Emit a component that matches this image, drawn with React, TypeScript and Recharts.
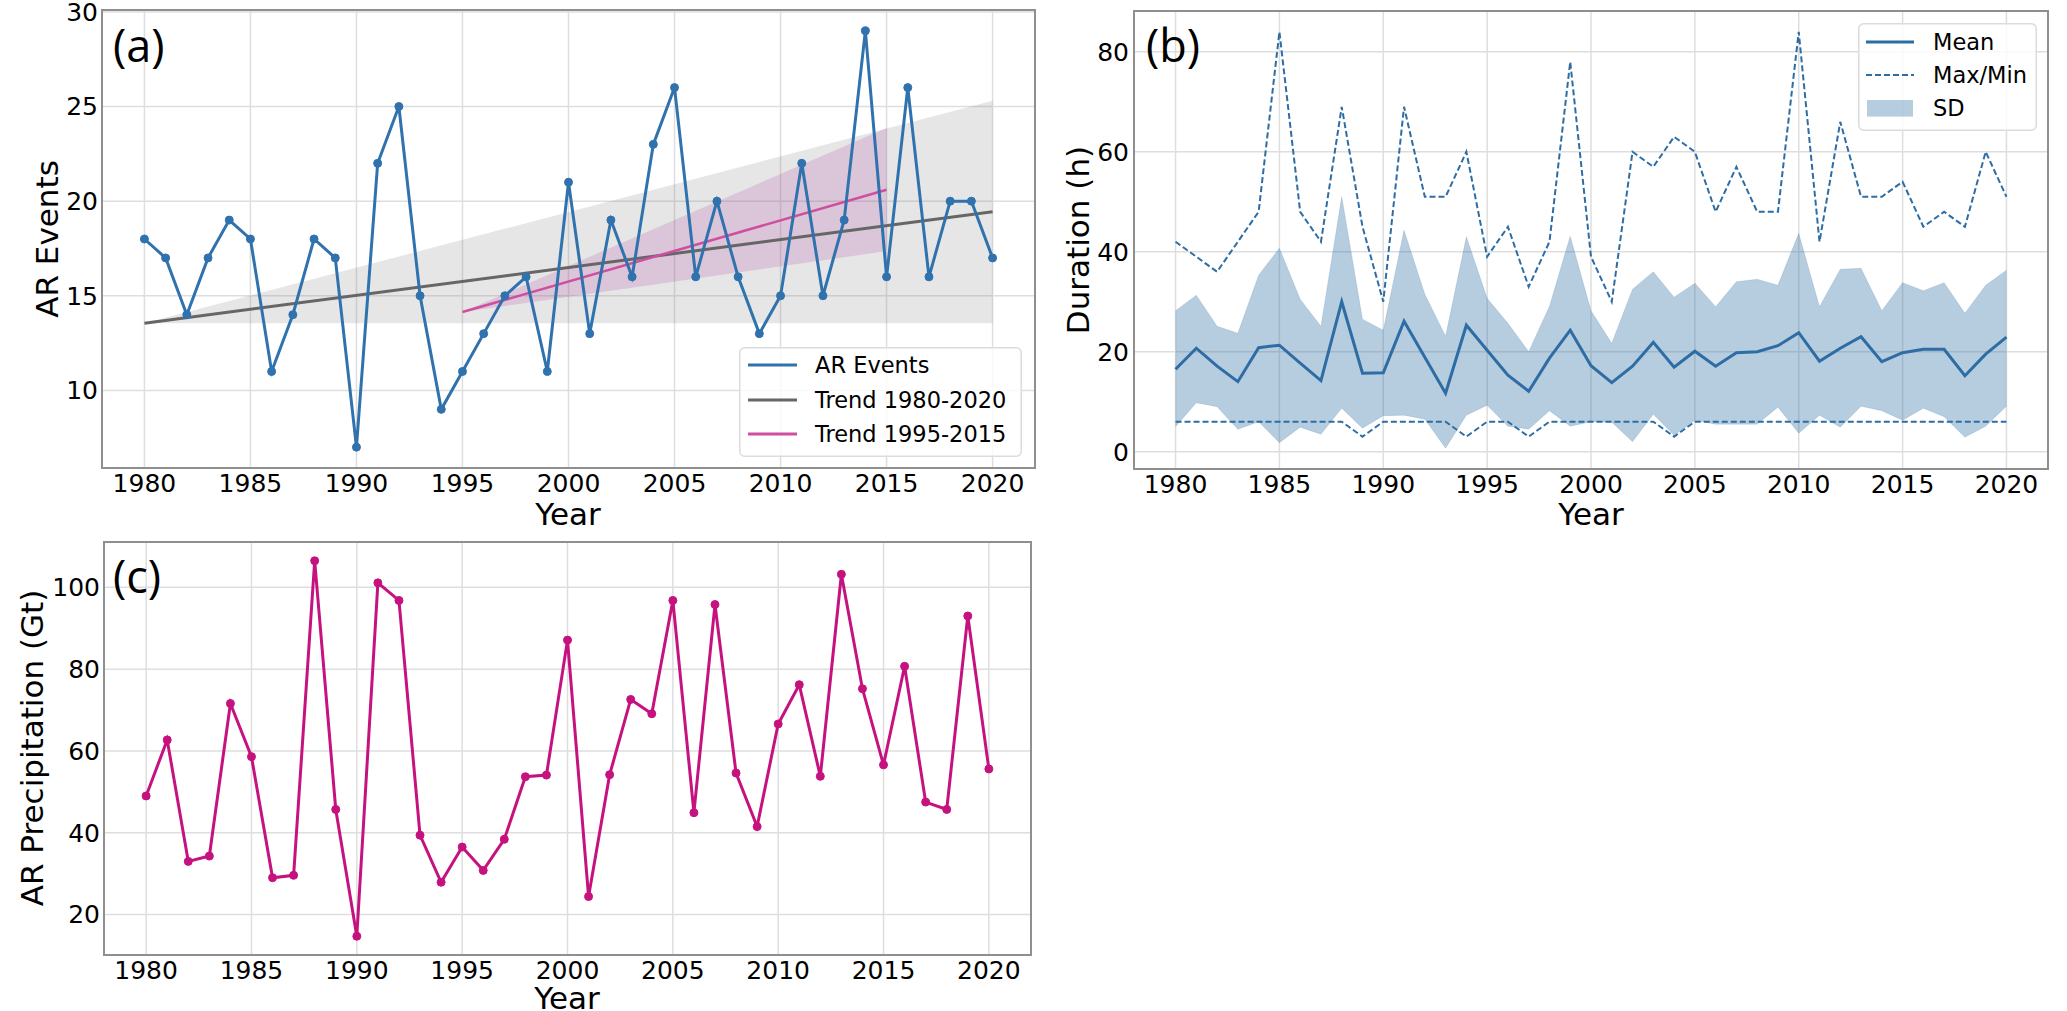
import React from 'react';
import {
  ComposedChart,
  Line,
  Area,
  XAxis,
  YAxis,
  CartesianGrid,
  ReferenceArea,
  Legend,
} from 'recharts';

// ---------- data ----------
const years = [
  1980, 1981, 1982, 1983, 1984, 1985, 1986, 1987, 1988, 1989,
  1990, 1991, 1992, 1993, 1994, 1995, 1996, 1997, 1998, 1999,
  2000, 2001, 2002, 2003, 2004, 2005, 2006, 2007, 2008, 2009,
  2010, 2011, 2012, 2013, 2014, 2015, 2016, 2017, 2018, 2019,
  2020,
];
const yearTicks = [1980, 1985, 1990, 1995, 2000, 2005, 2010, 2015, 2020];

const arEvents = [
  18, 17, 14, 17, 19, 18, 11, 14, 18, 17,
  7, 22, 25, 15, 9, 11, 13, 15, 16, 11,
  21, 13, 19, 16, 23, 26, 16, 20, 16, 13,
  15, 22, 15, 19, 29, 16, 26, 16, 20, 20,
  17,
];

// trend lines (endpoints) and their confidence bands
const trendAllYears = [1980, 2020];
const trendAllValues = [13.55, 19.44];
const bandAllLow = [13.55, 13.55];
const bandAllHigh = [13.55, 25.3];

const trendRecentYears = [1995, 2015];
const trendRecentValues = [14.14, 20.6];
const bandRecentLow = [14.14, 17.36];
const bandRecentHigh = [14.14, 23.87];

const eventsTicks = [10, 15, 20, 25, 30];

const durationMean = [
  16.5, 20.7, 17.1, 14.0, 20.8, 21.3, 17.7, 14.2, 30.0, 15.7,
  15.8, 26.1, 18.9, 11.7, 25.3, 20.3, 15.3, 12.1, 18.7, 24.3,
  17.2, 13.8, 17.1, 21.9, 16.9, 20.1, 17.1, 19.8, 20.0, 21.2,
  23.8, 18.1, 20.7, 23.0, 18.0, 19.8, 20.5, 20.5, 15.2, 19.5,
  22.9,
];
const durationMax = [
  42, 39, 36, 42, 48, 84, 48, 42, 69, 45,
  30, 69, 51, 51, 60, 39, 45, 33, 42, 78,
  39, 30, 60, 57, 63, 60, 48, 57, 48, 48,
  84, 42, 66, 51, 51, 54, 45, 48, 45, 60,
  51,
];
const durationMin = [
  6, 6, 6, 6, 6, 6, 6, 6, 6, 3,
  6, 6, 6, 6, 3, 6, 6, 3, 6, 6,
  6, 6, 6, 6, 3, 6, 6, 6, 6, 6,
  6, 6, 6, 6, 6, 6, 6, 6, 6, 6,
  6,
];
const sdLow = [
  5.0, 9.8, 9.0, 4.5, 6.0, 1.8, 4.9, 3.5, 8.7, 4.7,
  7.2, 7.3, 6.5, 0.7, 7.3, 9.3, 5.1, 4.5, 8.2, 5.1,
  6.0, 5.9, 2.0, 7.5, 3.3, 6.3, 5.5, 5.5, 5.5, 8.9,
  3.7, 7.3, 4.9, 9.1, 8.2, 6.3, 8.7, 7.0, 2.9, 5.1,
  9.1,
];
const sdHigh = [
  28.2, 31.3, 25.1, 23.7, 35.3, 40.7, 30.5, 25.1, 51.0, 26.5,
  24.3, 44.3, 31.5, 23.1, 43.0, 30.7, 25.7, 20.0, 29.1, 43.1,
  28.2, 21.7, 32.5, 36.0, 30.9, 33.7, 29.0, 34.0, 34.5, 33.3,
  43.7, 29.0, 36.5, 36.7, 28.2, 33.8, 32.2, 33.8, 27.7, 33.3,
  36.3,
];
const durationTicks = [0, 20, 40, 60, 80];

const arPrecip = [
  49.0, 62.7, 33.0, 34.3, 71.6, 58.6, 29.0, 29.6, 106.5, 45.7,
  14.7, 101.1, 96.8, 39.4, 27.9, 36.5, 30.8, 38.4, 53.7, 54.1,
  87.1, 24.4, 54.2, 72.6, 69.1, 96.8, 44.9, 95.8, 54.6, 41.5,
  66.6, 76.2, 53.8, 103.2, 75.2, 56.6, 80.7, 47.5, 45.7, 93.0,
  55.6,
];
const precipTicks = [20, 40, 60, 80, 100];

// ---------- tables ----------
const pick = (ys: number[], vals: number[], y: number) => {
  const i = ys.indexOf(y);
  return i >= 0 ? vals[i] : null;
};
const pickRange = (ys: number[], lo: number[], hi: number[], y: number) => {
  const i = ys.indexOf(y);
  return i >= 0 ? [lo[i], hi[i]] : null;
};

const tableA = years.map((y, i) => ({
  year: y,
  events: arEvents[i],
  trendAll: pick(trendAllYears, trendAllValues, y),
  bandAll: pickRange(trendAllYears, bandAllLow, bandAllHigh, y),
  trendRecent: pick(trendRecentYears, trendRecentValues, y),
  bandRecent: pickRange(trendRecentYears, bandRecentLow, bandRecentHigh, y),
}));

const tableB = years.map((y, i) => ({
  year: y,
  mean: durationMean[i],
  max: durationMax[i],
  min: durationMin[i],
  sd: [sdLow[i], sdHigh[i]],
}));

const tableC = years.map((y, i) => ({ year: y, precip: arPrecip[i] }));

// ---------- styles ----------
const FONT = '"DejaVu Sans", sans-serif';
const tickStyle = { fontSize: 25, fill: '#000', fontFamily: FONT };
const GRID = '#dedede';
const FRAME = '#8f8f8f';
const BLUE_A = '#3072ad';
const BLUE_B = '#2e6da4';
const MAGENTA = '#c6127f';
const PINK = '#cf4ea0';
const GRAY_T = '#666666';

const LegendA = () => (
  <svg width={283} height={110} style={{ display: 'block' }}>
    <rect x={0.75} y={0.75} width={281.5} height={108.5} rx={5} fill="#fff" fillOpacity={0.8} stroke="#dcdcdc" strokeWidth={1.5} />
    {[
      { label: 'AR Events', color: BLUE_A, y: 18 },
      { label: 'Trend 1980-2020', color: GRAY_T, y: 53 },
      { label: 'Trend 1995-2015', color: PINK, y: 87 },
    ].map((e) => (
      <g key={e.label}>
        <line x1={9} x2={58} y1={e.y} y2={e.y} stroke={e.color} strokeWidth={3} />
        <text x={76} y={e.y} dominantBaseline="central" fontFamily={FONT} fontSize={22.5} fill="#000">
          {e.label}
        </text>
      </g>
    ))}
  </svg>
);

const LegendB = () => (
  <svg width={179} height={108} style={{ display: 'block' }}>
    <rect x={0.75} y={0.75} width={177.5} height={106.5} rx={5} fill="#fff" fillOpacity={0.8} stroke="#dcdcdc" strokeWidth={1.5} />
    <line x1={8} x2={56} y1={19} y2={19} stroke={BLUE_B} strokeWidth={3} />
    <text x={75} y={19} dominantBaseline="central" fontFamily={FONT} fontSize={22.5} fill="#000">Mean</text>
    <line x1={8} x2={56} y1={52} y2={52} stroke={BLUE_B} strokeWidth={2} strokeDasharray="6 3" />
    <text x={75} y={52} dominantBaseline="central" fontFamily={FONT} fontSize={22.5} fill="#000">Max/Min</text>
    <rect x={9} y={77} width={46} height={16.6} fill={BLUE_B} fillOpacity={0.35} />
    <text x={75} y={85} dominantBaseline="central" fontFamily={FONT} fontSize={22.5} fill="#000">SD</text>
  </svg>
);

const A_DOMAIN: [number, number] = [5.9, 30.1];
const B_DOMAIN: [number, number] = [-3.47, 88.17];
const C_DOMAIN: [number, number] = [10.11, 111.09];
const X_DOMAIN: [number, number] = [1978, 2022];

export default function App() {
  return (
    <div style={{ position: 'absolute', left: 0, top: 0, width: 2067, height: 1011, background: '#fff', overflow: 'hidden' }}>
      {/* Panel (a) */}
      <div style={{ position: 'absolute', left: 0, top: 0 }}>
        <ComposedChart width={1050} height={540} data={tableA} margin={{ top: 10, right: 15, bottom: 0, left: 0 }}>
          <CartesianGrid stroke={GRID} strokeWidth={1.5} />
          <XAxis dataKey="year" type="number" domain={X_DOMAIN} ticks={yearTicks} allowDataOverflow interval={0}
            tickLine={false} axisLine={false} tickSize={0} tickMargin={6} height={72} tick={tickStyle} />
          <YAxis type="number" domain={A_DOMAIN} ticks={eventsTicks} allowDataOverflow interval={0}
            tickLine={false} axisLine={false} tickSize={0} tickMargin={4} width={102} tick={tickStyle} />
          <Area dataKey="bandAll" type="linear" connectNulls fill="#808080" fillOpacity={0.2} stroke="none" isAnimationActive={false} activeDot={false} />
          <Area dataKey="bandRecent" type="linear" connectNulls fill="#a8449e" fillOpacity={0.2} stroke="none" isAnimationActive={false} activeDot={false} />
          <Line dataKey="trendAll" type="linear" connectNulls stroke={GRAY_T} strokeWidth={3} dot={false} activeDot={false} isAnimationActive={false} />
          <Line dataKey="trendRecent" type="linear" connectNulls stroke={PINK} strokeWidth={2.5} dot={false} activeDot={false} isAnimationActive={false} />
          <Line dataKey="events" type="linear" stroke={BLUE_A} strokeWidth={3}
            dot={{ r: 4, fill: BLUE_A, stroke: BLUE_A, strokeWidth: 1 }} activeDot={false} isAnimationActive={false} />
          <ReferenceArea x1={X_DOMAIN[0]} x2={X_DOMAIN[1]} y1={A_DOMAIN[0]} y2={A_DOMAIN[1]} fill="none" stroke={FRAME} strokeWidth={2} ifOverflow="visible" />
          <Legend layout="horizontal" verticalAlign="middle" align="center" content={() => <LegendA />}
            wrapperStyle={{ left: 739, top: 347, width: 283, height: 110 }} />
        </ComposedChart>
      </div>

      {/* Panel (b) */}
      <div style={{ position: 'absolute', left: 1040, top: 0 }}>
        <ComposedChart width={1027} height={540} data={tableB} margin={{ top: 11, right: 19, bottom: 0, left: 0 }}>
          <CartesianGrid stroke={GRID} strokeWidth={1.5} />
          <XAxis dataKey="year" type="number" domain={X_DOMAIN} ticks={yearTicks} allowDataOverflow interval={0}
            tickLine={false} axisLine={false} tickSize={0} tickMargin={6} height={71} tick={tickStyle} />
          <YAxis type="number" domain={B_DOMAIN} ticks={durationTicks} allowDataOverflow interval={0}
            tickLine={false} axisLine={false} tickSize={0} tickMargin={5} width={94} tick={tickStyle} />
          <Area dataKey="sd" type="linear" fill={BLUE_B} fillOpacity={0.35} stroke={BLUE_B} strokeOpacity={0.15} strokeWidth={1} isAnimationActive={false} activeDot={false} />
          <Line dataKey="max" type="linear" stroke={BLUE_B} strokeWidth={2} strokeDasharray="6 3" dot={false} activeDot={false} isAnimationActive={false} />
          <Line dataKey="min" type="linear" stroke={BLUE_B} strokeWidth={2} strokeDasharray="6 3" dot={false} activeDot={false} isAnimationActive={false} />
          <Line dataKey="mean" type="linear" stroke={BLUE_B} strokeWidth={3} dot={false} activeDot={false} isAnimationActive={false} />
          <ReferenceArea x1={X_DOMAIN[0]} x2={X_DOMAIN[1]} y1={B_DOMAIN[0]} y2={B_DOMAIN[1]} fill="none" stroke={FRAME} strokeWidth={2} ifOverflow="visible" />
          <Legend layout="horizontal" verticalAlign="middle" align="center" content={() => <LegendB />}
            wrapperStyle={{ left: 818, top: 23, width: 179, height: 108 }} />
        </ComposedChart>
      </div>

      {/* Panel (c) */}
      <div style={{ position: 'absolute', left: 0, top: 540 }}>
        <ComposedChart width={1050} height={471} data={tableC} margin={{ top: 2, right: 19, bottom: 0, left: 0 }}>
          <CartesianGrid stroke={GRID} strokeWidth={1.5} />
          <XAxis dataKey="year" type="number" domain={X_DOMAIN} ticks={yearTicks} allowDataOverflow interval={0}
            tickLine={false} axisLine={false} tickSize={0} tickMargin={6} height={56} tick={tickStyle} />
          <YAxis type="number" domain={C_DOMAIN} ticks={precipTicks} allowDataOverflow interval={0}
            tickLine={false} axisLine={false} tickSize={0} tickMargin={4} width={104} tick={tickStyle} />
          <Line dataKey="precip" type="linear" stroke={MAGENTA} strokeWidth={3}
            dot={{ r: 4, fill: MAGENTA, stroke: MAGENTA, strokeWidth: 1 }} activeDot={false} isAnimationActive={false} />
          <ReferenceArea x1={X_DOMAIN[0]} x2={X_DOMAIN[1]} y1={C_DOMAIN[0]} y2={C_DOMAIN[1]} fill="none" stroke={FRAME} strokeWidth={2} ifOverflow="visible" />
        </ComposedChart>
      </div>

      {/* Titles and axis labels */}
      <svg width={2067} height={1011} style={{ position: 'absolute', left: 0, top: 0, pointerEvents: 'none' }}>
        <g fontFamily='"Open Sans", sans-serif' fontSize={45} fill="#000">
          <text x={113} y={62}>(a)</text>
          <text x={1146} y={62}>(b)</text>
          <text x={113} y={593}>(c)</text>
        </g>
        <g fontFamily={FONT} fontSize={31} fill="#000" textAnchor="middle">
          <text x={568} y={525}>Year</text>
          <text x={1591} y={525}>Year</text>
          <text x={567} y={1009}>Year</text>
          <text transform="translate(58,239) rotate(-90)">AR Events</text>
          <text transform="translate(1089,240) rotate(-90)">Duration (h)</text>
          <text transform="translate(43,748) rotate(-90)">AR Precipitation (Gt)</text>
        </g>
      </svg>
    </div>
  );
}
